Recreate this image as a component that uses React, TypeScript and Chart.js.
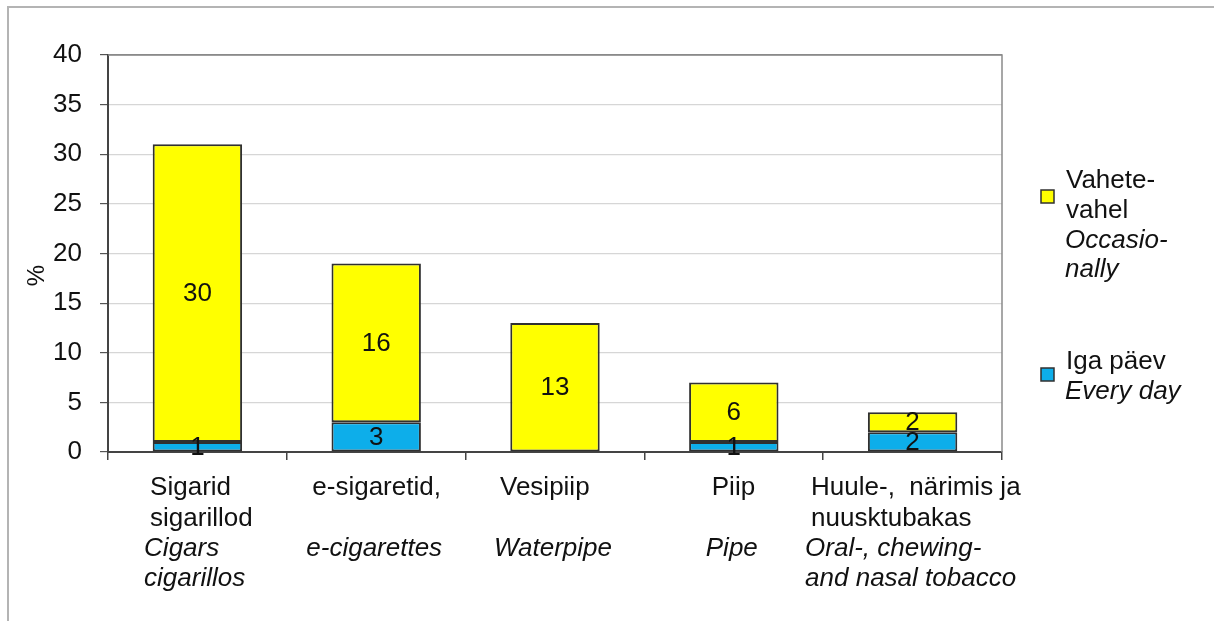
import React, { useEffect, useRef } from 'react';
import { Chart, registerables } from 'chart.js';

Chart.register(...registerables);

// ---- data ----
const categoriesEt: string[][] = [
  ['Sigarid', 'sigarillod'],
  ['e-sigaretid,'],
  ['Vesipiip'],
  ['Piip'],
  ['Huule-,  närimis ja', 'nuusktubakas'],
];
const categoriesEn: string[][] = [
  ['Cigars', 'cigarillos'],
  ['e-cigarettes'],
  ['Waterpipe'],
  ['Pipe'],
  ['Oral-, chewing-', 'and nasal tobacco'],
];
const everyDay = [1, 3, 0, 1, 2];
const occasionally = [30, 16, 13, 6, 2];
const yMin = 0;
const yMax = 40;
const yStep = 5;
const yTitle = '%';
const legendOccasionallyEt = ['Vahete-', 'vahel'];
const legendOccasionallyEn = ['Occasio-', 'nally'];
const legendEveryDayEt = ['Iga päev'];
const legendEveryDayEn = ['Every day'];

// ---- style ----
const FONT = 'Arial, "Liberation Sans", sans-serif';
const FS = 26;
const YELLOW = '#FFFF00';
const BLUE = '#0DAEEA';
const EDGE = '#303030';
const TEXT = '#111111';

const decorPlugin = {
  id: 'decor',
  afterDatasetsDraw(chart: any) {
    const ctx = chart.ctx;
    const ca = chart.chartArea;
    // plot border right + top
    ctx.save();
    ctx.strokeStyle = '#8a8a8a';
    ctx.lineWidth = 1.5;
    ctx.beginPath();
    ctx.moveTo(ca.left, ca.top);
    ctx.lineTo(ca.right, ca.top);
    ctx.lineTo(ca.right, ca.bottom);
    ctx.stroke();
    ctx.restore();

    // data labels
    ctx.save();
    ctx.font = `${FS}px ${FONT}`;
    ctx.fillStyle = TEXT;
    ctx.textAlign = 'center';
    ctx.textBaseline = 'middle';
    chart.data.datasets.forEach((ds: any, di: number) => {
      const meta = chart.getDatasetMeta(di);
      meta.data.forEach((el: any, i: number) => {
        const v = ds.data[i];
        if (!v) return;
        ctx.fillText(String(v), el.x, (el.y + el.base) / 2 + 1);
      });
    });
    ctx.restore();
  },
  afterDraw(chart: any) {
    const ctx = chart.ctx;
    const ca = chart.chartArea;
    const xs = chart.scales.x;
    const lineH = 30.4;
    ctx.save();
    ctx.fillStyle = TEXT;
    ctx.textBaseline = 'middle';
    ctx.textAlign = 'left';
    const normal = `${FS}px ${FONT}`;
    const italic = `italic ${FS}px ${FONT}`;
    categoriesEt.forEach((et, i) => {
      const en = categoriesEn[i];
      const cx = xs.getPixelForValue(i);
      let maxW = 0;
      ctx.font = normal;
      et.forEach((t) => (maxW = Math.max(maxW, ctx.measureText(t).width)));
      ctx.font = italic;
      en.forEach((t) => (maxW = Math.max(maxW, ctx.measureText(t).width)));
      const left = cx - maxW / 2;
      ctx.font = normal;
      et.forEach((t, r) => ctx.fillText(t, left + 4, ca.bottom + 36 + r * lineH));
      ctx.font = italic;
      en.forEach((t, r) => ctx.fillText(t, left - 2, ca.bottom + 36 + (r + 2) * lineH));
    });

    // y title
    ctx.save();
    ctx.font = `${FS - 2}px ${FONT}`;
    ctx.textAlign = 'center';
    ctx.textBaseline = 'middle';
    ctx.translate(37, (ca.top + ca.bottom) / 2 + 22);
    ctx.rotate(-Math.PI / 2);
    ctx.fillText(yTitle, 0, 0);
    ctx.restore();

    // legend
    const bx = ca.right + 39;
    const tx = ca.right + 64;
    const drawBox = (y: number, color: string) => {
      ctx.fillStyle = color;
      ctx.fillRect(bx, y, 13, 13);
      ctx.strokeStyle = EDGE;
      ctx.lineWidth = 1.5;
      ctx.strokeRect(bx, y, 13, 13);
    };
    drawBox(190, YELLOW);
    drawBox(368, BLUE);
    ctx.fillStyle = TEXT;
    ctx.font = normal;
    legendOccasionallyEt.forEach((t, r) => ctx.fillText(t, tx, 181 + r * 29.7));
    ctx.font = italic;
    legendOccasionallyEn.forEach((t, r) => ctx.fillText(t, tx - 1, 181 + (r + 2) * 29.7));
    ctx.font = normal;
    legendEveryDayEt.forEach((t, r) => ctx.fillText(t, tx, 362 + r * 30));
    ctx.font = italic;
    legendEveryDayEn.forEach((t, r) => ctx.fillText(t, tx - 1, 392 + r * 30));
    ctx.restore();
  },
};

export default function App() {
  const ref = useRef<HTMLCanvasElement | null>(null);
  useEffect(() => {
    if (!ref.current) return;
    const labels = categoriesEt.map((et, i) => [...et, ...categoriesEn[i]]);
    const chart = new Chart(ref.current, {
      type: 'bar',
      data: {
        labels,
        datasets: [
          {
            label: 'Iga päev Every day',
            data: everyDay,
            backgroundColor: BLUE,
            borderColor: EDGE,
            borderWidth: 2,
            borderSkipped: false,
          },
          {
            label: 'Vahetevahel Occasionally',
            data: occasionally,
            backgroundColor: YELLOW,
            borderColor: EDGE,
            borderWidth: 2,
            borderSkipped: false,
          },
        ],
      },
      options: {
        animation: false,
        responsive: false,
        maintainAspectRatio: false,
        layout: { padding: { left: 20, top: 55, right: 212, bottom: 161 } },
        plugins: {
          legend: { display: false },
          tooltip: { enabled: false },
        },
        datasets: { bar: { categoryPercentage: 1, barPercentage: 0.5 } },
        scales: {
          x: {
            stacked: true,
            ticks: { display: false },
            grid: {
              drawOnChartArea: false,
              drawTicks: true,
              tickLength: 8,
              color: '#444',
              tickColor: '#444',
              lineWidth: 1.5,
            },
            border: { color: '#444', width: 2 },
            afterFit: (s: any) => {
              s.height = 8;
            },
          },
          y: {
            stacked: true,
            min: yMin,
            max: yMax,
            ticks: {
              stepSize: yStep,
              padding: 18,
              color: TEXT,
              font: { family: FONT, size: FS },
            },
            grid: {
              color: (c: any) => (c.tick && c.tick.value === yMax ? '#8a8a8a' : '#d6d6d6'),
              tickColor: '#555',
              tickLength: 8,
              lineWidth: 1.2,
            },
            border: { color: '#444', width: 2 },
            afterFit: (s: any) => {
              s.width = 88;
            },
          },
        },
      },
      plugins: [decorPlugin],
    });
    return () => chart.destroy();
  }, []);

  return (
    <div style={{ position: 'fixed', left: 0, top: 0, width: 1214, height: 621, background: '#fff' }}>
      <div
        style={{
          position: 'absolute',
          left: 7,
          top: 6,
          width: 1220,
          height: 640,
          borderTop: '2px solid #b4b4b4',
          borderLeft: '2px solid #b4b4b4',
          pointerEvents: 'none',
        }}
      />
      <canvas ref={ref} width={1214} height={621} style={{ position: 'absolute', left: 0, top: 0 }} />
    </div>
  );
}
